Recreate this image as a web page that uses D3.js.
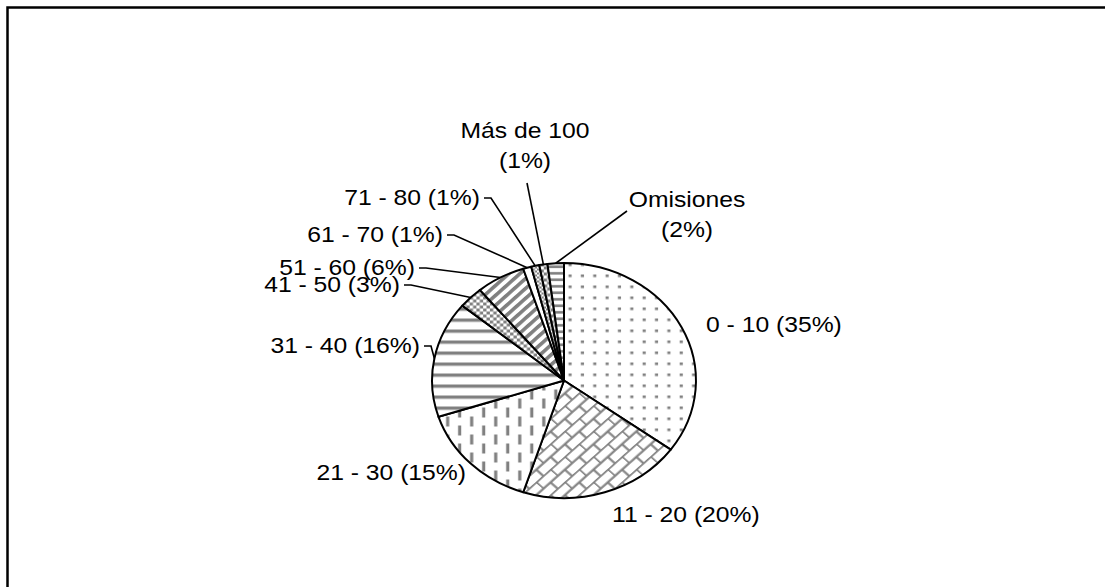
<!DOCTYPE html>
<html>
<head>
<meta charset="utf-8">
<script src="https://cdn.jsdelivr.net/npm/d3@7"></script>
<style>
  body { margin: 0; background: #fff; }
  text { font-family: "Liberation Sans", Arial, sans-serif; font-size: 22px; fill: #000; }
</style>
</head>
<body>
<svg id="chart" width="1105" height="587"></svg>
<script>
// Data
const categories = ['0 - 10', '11 - 20', '21 - 30', '31 - 40', '41 - 50', '51 - 60',
                    '61 - 70', '71 - 80', 'Más de 100', 'Omisiones'];
const percents = [35, 20, 15, 16, 3, 6, 1, 1, 1, 2];
const fills = ['dots', 'brick', 'vdash', 'hstripe', 'checker', 'diag', 'white', 'checkfine', 'checker', 'hdense'];

// Label placement (screen px, baselines); two-line labels break before the percentage
const labelLayout = [
  { x: 706, y: 332, anchor: 'start' },
  { x: 612, y: 522, anchor: 'start' },
  { x: 466, y: 480, anchor: 'end' },
  { x: 420, y: 353, anchor: 'end', tick: true },
  { x: 400, y: 292, anchor: 'end', tick: true },
  { x: 415, y: 275, anchor: 'end', tick: true },
  { x: 443, y: 242, anchor: 'end', tick: true },
  { x: 480, y: 205, anchor: 'end', tick: true },
  { x: 525, y: 138, anchor: 'middle', split: true, from: [527, 183] },
  { x: 687, y: 207, anchor: 'middle', split: true, from: [627, 211] }
];

const cx = 564, cy = 380.5, r = 117.5, sx = 1.123;
const gray = '#808080';

const svg = d3.select('#chart');

// frame (runs off the right and bottom of the picture)
svg.append('rect')
  .attr('x', 7.5).attr('y', 7.5).attr('width', 1150).attr('height', 640)
  .attr('fill', 'none').attr('stroke', '#000').attr('stroke-width', 2.5);

// Fill patterns
const defs = svg.append('defs');
function pattern(id, w, h, extra) {
  const p = defs.append('pattern').attr('id', id)
    .attr('patternUnits', 'userSpaceOnUse').attr('width', w).attr('height', h);
  if (extra) p.attr('patternTransform', extra);
  p.append('rect').attr('width', w).attr('height', h).attr('fill', '#fff');
  return p;
}
let p = pattern('dots', 11, 11);
p.append('rect').attr('x', 4).attr('y', 4).attr('width', 2.8).attr('height', 2.6).attr('fill', gray);

p = pattern('brick', 18, 18, 'rotate(-45)');
p.append('path').attr('d', 'M0,0.5H18M0,9.5H18M0.5,0V9.5M9.5,9.5V18')
  .attr('stroke', gray).attr('stroke-width', 2).attr('fill', 'none');

p = pattern('vdash', 21.4, 18);
p.append('rect').attr('x', 2).attr('y', 0).attr('width', 2.8).attr('height', 10).attr('fill', gray);
p.append('rect').attr('x', 12.7).attr('y', 9).attr('width', 2.8).attr('height', 9).attr('fill', gray);
p.append('rect').attr('x', 12.7).attr('y', 0).attr('width', 2.8).attr('height', 1).attr('fill', gray);

p = pattern('hstripe', 10, 11);
p.append('rect').attr('x', 0).attr('y', 4).attr('width', 10).attr('height', 3.3).attr('fill', gray);

p = pattern('checker', 6, 6);
p.append('rect').attr('x', 0).attr('y', 0).attr('width', 3).attr('height', 3).attr('fill', gray);
p.append('rect').attr('x', 3).attr('y', 3).attr('width', 3).attr('height', 3).attr('fill', gray);

p = pattern('checkfine', 4, 4);
p.append('rect').attr('x', 0).attr('y', 0).attr('width', 2).attr('height', 2).attr('fill', gray);
p.append('rect').attr('x', 2).attr('y', 2).attr('width', 2).attr('height', 2).attr('fill', gray);

p = pattern('diag', 7, 7, 'rotate(45)');
p.append('rect').attr('x', 0).attr('y', 0).attr('width', 3.4).attr('height', 7).attr('fill', gray);

p = pattern('hdense', 8, 6.5);
p.append('rect').attr('x', 0).attr('y', 2).attr('width', 8).attr('height', 2.6).attr('fill', gray);

pattern('white', 4, 4);

// Pie (drawn as a circle, stretched horizontally like the original)
const pie = d3.pie().sort(null).value(d => d);
const arcs = pie(percents);
const arc = d3.arc().innerRadius(0).outerRadius(r);
const edge = d3.arc().innerRadius(r).outerRadius(r);

const g = svg.append('g').attr('transform', `translate(${cx},${cy}) scale(${sx},1)`);
g.selectAll('path.slice')
  .data(arcs)
  .join('path')
  .attr('class', 'slice')
  .attr('d', arc)
  .attr('fill', (d, i) => `url(#${fills[i]})`)
  .attr('stroke', '#000')
  .attr('stroke-width', 2)
  .attr('stroke-linejoin', 'round')
  .attr('vector-effect', 'non-scaling-stroke');

// outer point of each slice on screen
function edgePoint(d) {
  const [x, y] = edge.centroid(d);
  return [cx + x * sx, cy + y];
}

// Leader lines
const leaders = svg.append('g').attr('fill', 'none').attr('stroke', '#000').attr('stroke-width', 1.6);
arcs.forEach((d, i) => {
  const L = labelLayout[i];
  const [ex, ey] = edgePoint(d);
  if (L.tick) {
    const ty = L.y - 7;
    leaders.append('path').attr('d', `M${L.x + 4},${ty}H${L.x + 11}L${ex},${ey}`);
  } else if (L.from) {
    leaders.append('path').attr('d', `M${L.from[0]},${L.from[1]}L${ex},${ey}`);
  }
});

// Labels
categories.forEach((c, i) => {
  const L = labelLayout[i];
  const pct = `(${percents[i]}%)`;
  const lines = L.split ? [c, pct] : [`${c} ${pct}`];
  const t = svg.append('g')
    .attr('transform', `translate(${L.x},${L.y}) scale(${sx},1)`)
    .append('text')
    .attr('text-anchor', L.anchor);
  lines.forEach((s, k) => {
    t.append('tspan').attr('x', 0).attr('y', k * 30).text(s);
  });
});
</script>
</body>
</html>
